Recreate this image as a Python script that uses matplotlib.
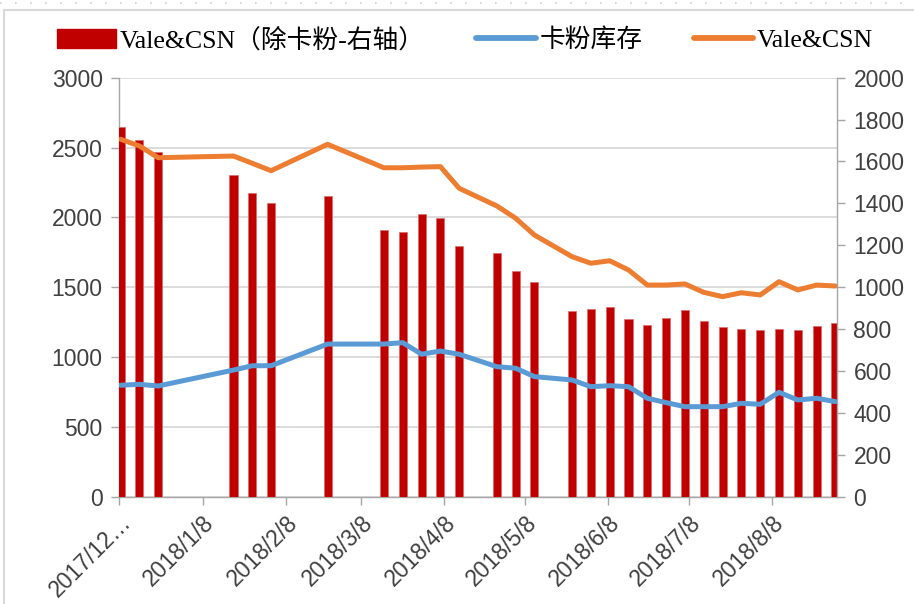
import numpy as np
import matplotlib
matplotlib.use("Agg")
import matplotlib.pyplot as plt
import matplotlib.dates as mdates
from matplotlib.patches import Patch
from matplotlib.lines import Line2D

# weekly observations (Fridays)
dates = np.array(['2017-12-08', '2017-12-15', '2017-12-22', '2018-01-19', '2018-01-26',
                  '2018-02-02', '2018-02-23', '2018-03-16', '2018-03-23', '2018-03-30',
                  '2018-04-06', '2018-04-13', '2018-04-27', '2018-05-04', '2018-05-11',
                  '2018-05-25', '2018-06-01', '2018-06-08', '2018-06-15', '2018-06-22',
                  '2018-06-29', '2018-07-06', '2018-07-13', '2018-07-20', '2018-07-27',
                  '2018-08-03', '2018-08-10', '2018-08-17', '2018-08-24', '2018-08-31'],
                 dtype='datetime64[D]')

# Vale&CSN excluding Carajas fines (right axis)
ex_carajas = [1763, 1702, 1643, 1534, 1448, 1403, 1435, 1273, 1265, 1349,
              1329, 1197, 1162, 1079, 1027, 888, 898, 907, 847, 820,
              855, 892, 841, 809, 800, 795, 802, 796, 815, 831]
# Carajas fines stock (left axis)
carajas = [799, 806, 794, 908, 939, 939, 1094, 1094, 1104, 1021,
           1044, 1021, 932, 921, 861, 837, 789, 796, 789, 706,
           675, 646, 646, 646, 670, 663, 749, 694, 706, 682]
# Vale&CSN total (left axis)
vale_csn = [2559, 2511, 2427, 2439, 2387, 2334, 2523, 2355, 2355, 2360,
            2363, 2208, 2082, 1994, 1874, 1719, 1672, 1690, 1624, 1516,
            1516, 1524, 1464, 1433, 1461, 1445, 1540, 1481, 1516, 1509]

tick_dates = np.array(['2017-12-08', '2018-01-08', '2018-02-08', '2018-03-08', '2018-04-08',
                       '2018-05-08', '2018-06-08', '2018-07-08', '2018-08-08'],
                      dtype='datetime64[D]')
tick_labels = ['2017/12…', '2018/1/8', '2018/2/8', '2018/3/8', '2018/4/8',
               '2018/5/8', '2018/6/8', '2018/7/8', '2018/8/8']
x_start, x_end = np.datetime64('2017-12-08'), np.datetime64('2018-09-01')

RED, BLUE, ORANGE = '#C00000', '#5B9BD5', '#ED7D31'
AXC, TXT = '#A6A6A6', '#404040'
plt.rcParams['font.family'] = ['Liberation Sans', 'Noto Sans CJK SC']

fig = plt.figure(figsize=(9.14, 6.04), dpi=100)
rect = [0.1305, 0.1772, 0.785, 0.6943]

xs = mdates.date2num(dates.astype('datetime64[s]')) + 0.5
xlim = (mdates.date2num(x_start.astype('datetime64[s]')),
        mdates.date2num(x_end.astype('datetime64[s]')))

# base axes: grid + left ticks + x axis
ax = fig.add_axes(rect, zorder=0)
ax.set_xlim(*xlim)
ax.set_ylim(0, 3000)
ax.set_yticks(np.arange(0, 3001, 500))
ax.grid(axis='y', color='#D9D9D9', linewidth=1.3)
ax.set_axisbelow(True)

# bars on right axis
axr = ax.twinx()
axr.set_zorder(1)
axr.patch.set_visible(False)
axr.bar(xs, ex_carajas, width=3.0, color=RED, edgecolor='#D96B6B', linewidth=0.5)
axr.set_ylim(0, 2000)
axr.set_yticks(np.arange(0, 2001, 200))

# lines on top, left scale
axl = ax.twinx()
axl.set_zorder(2)
axl.patch.set_visible(False)
axl.plot(xs, carajas, color=BLUE, lw=3.6, solid_joinstyle='round', solid_capstyle='round')
axl.plot(xs, vale_csn, color=ORANGE, lw=3.6, solid_joinstyle='round', solid_capstyle='round')
axl.set_ylim(0, 3000)
axl.set_yticks([])
axl.set_xlim(*xlim)

for a in (ax, axr, axl):
    for s in a.spines.values():
        s.set_visible(False)
ax.spines['left'].set_visible(True)
ax.spines['bottom'].set_visible(True)
axr.spines['right'].set_visible(True)
for s in (ax.spines['left'], ax.spines['bottom'], axr.spines['right']):
    s.set_color(AXC)
    s.set_linewidth(1.0)

ax.set_xticks(mdates.date2num(tick_dates.astype('datetime64[s]')))
ax.set_xticklabels(tick_labels, rotation=45, ha='right', rotation_mode='anchor')
ax.tick_params(axis='x', colors=AXC, labelcolor=TXT, labelsize=16.5, length=6, width=1, pad=4)
ax.tick_params(axis='y', colors=AXC, labelcolor=TXT, labelsize=16.5, length=6, width=1, pad=6)
axr.tick_params(axis='y', colors=AXC, labelcolor=TXT, labelsize=16.5, length=6, width=1, pad=6)

handles = [Patch(facecolor=RED, edgecolor=RED),
           Line2D([], [], color=BLUE, lw=4.2, solid_capstyle='round'),
           Line2D([], [], color=ORANGE, lw=4.2, solid_capstyle='round')]
labels = ['Vale&CSN（除卡粉-右轴）', '卡粉库存', 'Vale&CSN']
fig.legend(handles, labels, loc='center', bbox_to_anchor=(465 / 914, 1 - 40 / 604),
           ncol=3, frameon=False, handlelength=2.3, handleheight=0.75,
           handletextpad=0.15, columnspacing=2.0,
           prop={'family': ['Liberation Serif', 'Noto Sans CJK SC'], 'size': 18.5})

# chart frame like the original export
fig.add_artist(Line2D([4 / 914, 4 / 914], [0, 1 - 10 / 604], transform=fig.transFigure,
                      color='#D9D9D9', lw=1.5))
fig.add_artist(Line2D([4 / 914, 1], [1 - 10 / 604, 1 - 10 / 604], transform=fig.transFigure,
                      color='#D9D9D9', lw=1.5))
fig.add_artist(Line2D([0, 1], [1 - 3 / 604, 1 - 3 / 604], transform=fig.transFigure,
                      color='#D0D0D0', lw=1.2, linestyle=(0, (1, 8))))

fig.savefig('out.png', dpi=100)
